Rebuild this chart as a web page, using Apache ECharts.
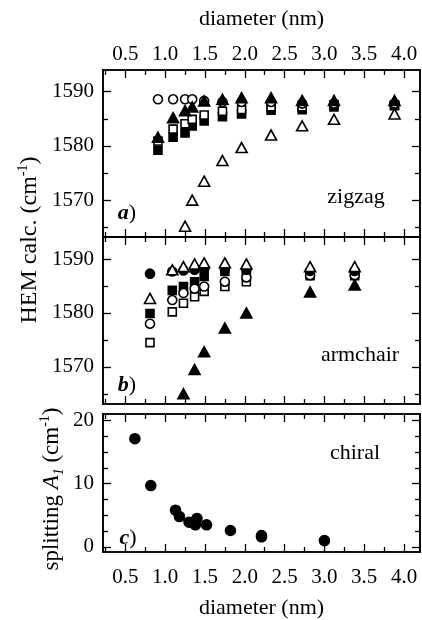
<!DOCTYPE html>
<html>
<head>
<meta charset="utf-8">
<script src="https://cdn.jsdelivr.net/npm/echarts@6/dist/echarts.min.js"></script>
<style>
  html, body { margin: 0; padding: 0; background: #fff; }
  #chart { width: 422px; height: 620px; }
</style>
</head>
<body>
<div id="chart"></div>
<script>
// ticks
const xMajor = [0.5, 1.0, 1.5, 2.0, 2.5, 3.0, 3.5, 4.0]
const xMinor = [0.25, 0.75, 1.25, 1.75, 2.25, 2.75, 3.25, 3.75]
const hemMajor = [1570, 1580, 1590]
const hemMinor = [1565, 1575, 1585]
const splitMajor = [0, 10, 20]
const splitMinor = [2.5, 5, 7.5, 12.5, 15, 17.5]

// a) zigzag
const zzD = [0.91, 1.10, 1.25, 1.34, 1.49, 1.72, 1.96, 2.33, 2.72, 3.12, 3.88]
const zzOpenCircle = [1588.6, 1588.6, 1588.6, 1588.6, 1588.3, 1588.1, 1588.1, 1588.1, 1587.8, 1587.8, 1587.8]
const zzFilledTri = [1581.6, 1585.2, 1586.5, 1587.2, 1588.3, 1588.6, 1588.9, 1588.9, 1588.4, 1588.4, 1588.4]
const zzOpenSquare = [1580.9, 1583.1, 1584.1, 1584.9, 1585.7, 1586.4, 1586.7, 1587.2, 1587.2, 1587.6, 1587.6]
const zzFilledSquare = [1579.2, 1581.6, 1582.4, 1583.7, 1584.6, 1585.4, 1585.9, 1586.6, 1586.7, 1587.2, 1587.4]
const zzTriD = [1.25, 1.34, 1.49, 1.72, 1.96, 2.33, 2.72, 3.12, 3.88]
const zzOpenTri = [1565.2, 1570.0, 1573.5, 1577.3, 1579.7, 1582.0, 1583.7, 1584.9, 1585.9]

// b) armchair
const acD = [0.81, 1.09, 1.23, 1.37, 1.49, 1.75, 2.02, 2.82, 3.38]
const acFilledCircle = [1587.3, 1587.7, 1587.9, 1588.0, 1588.1, 1588.1, 1588.0, 1587.8, 1587.8]
const acOpenTri = [1582.7, 1588.0, 1588.6, 1589.1, 1589.3, 1589.3, 1589.1, 1588.6, 1588.6]
const acFilledSquare = [1579.9, 1584.2, 1584.9, 1585.8, 1586.8, 1587.7, 1587.7, 1586.9, 1586.9]
const acOpenCircle = [1578.0, 1582.4, 1583.7, 1584.5, 1584.9, 1585.8, 1586.6, 1587.0, 1587.0]
const acOpenSquare = [1574.5, 1580.2, 1581.8, 1583.0, 1584.0, 1584.9, 1585.8, 1587.4, 1587.4]
const acTriD = [1.23, 1.37, 1.49, 1.75, 2.02, 2.82, 3.38]
const acFilledTri = [1565.0, 1569.5, 1572.8, 1577.2, 1580.0, 1583.9, 1585.2]

// c) chiral
const chD = [0.62, 0.82, 1.13, 1.18, 1.30, 1.37, 1.40, 1.38, 1.52, 1.82, 2.21, 2.21, 3.00]
const chSplit = [17.1, 9.7, 5.8, 4.8, 3.9, 3.75, 4.5, 3.5, 3.5, 2.6, 1.8, 1.6, 1.0]

const FONT = '"Liberation Serif", "DejaVu Serif", serif'
const X_MIN = 0.22, X_MAX = 4.2
const yRanges = [[1563.2, 1594], [1563.1, 1594.1], [-0.8, 21]]

const chart = echarts.init(document.getElementById('chart'), null, { renderer: 'canvas' })

const line = { color: '#000', width: 1.6 }

// one x axis (one side, one tick length) of a grid
const xAx = (grid, pos, ticks, len, labels, name) => ({
  gridIndex: grid, type: 'value', position: pos, min: X_MIN, max: X_MAX,
  axisLine: { show: true, onZero: false, lineStyle: line },
  axisTick: { show: true, inside: true, length: len, customValues: ticks, lineStyle: { color: '#000', width: 1.3 } },
  axisLabel: labels
    ? { show: true, customValues: ticks, formatter: v => v.toFixed(1), color: '#000', fontFamily: FONT, fontSize: 21,
        margin: pos === 'top' ? 5 : 15 }
    : { show: false },
  splitLine: { show: false },
  name: name || '', nameLocation: 'middle', nameGap: pos === 'top' ? 40 : 45,
  nameTextStyle: { color: '#000', fontFamily: FONT, fontSize: 22 }
})

const yAx = (grid, pos, ticks, len, labels) => ({
  gridIndex: grid, type: 'value', position: pos, min: yRanges[grid][0], max: yRanges[grid][1],
  axisLine: { show: true, onZero: false, lineStyle: line },
  axisTick: { show: true, inside: true, length: len, customValues: ticks, lineStyle: { color: '#000', width: 1.3 } },
  axisLabel: labels
    ? { show: true, customValues: ticks, formatter: v => String(v), color: '#000', fontFamily: FONT, fontSize: 21, margin: 9 }
    : { show: false },
  splitLine: { show: false }
})

const xAxes = [], yAxes = []
const yMaj = [hemMajor, hemMajor, splitMajor]
const yMin = [hemMinor, hemMinor, splitMinor]
for (let g = 0; g < 3; g++) {
  // index 4g is the bottom major axis used by series
  xAxes.push(xAx(g, 'bottom', xMajor, 8, g === 2, g === 2 ? 'diameter (nm)' : ''))
  xAxes.push(xAx(g, 'bottom', xMinor, 5, false))
  xAxes.push(xAx(g, 'top', xMajor, 8, g === 0, g === 0 ? 'diameter (nm)' : ''))
  xAxes.push(xAx(g, 'top', xMinor, 5, false))
  yAxes.push(yAx(g, 'left', yMaj[g], 8, true))
  yAxes.push(yAx(g, 'left', yMin[g], 5, false))
  yAxes.push(yAx(g, 'right', yMaj[g], 8, false))
  yAxes.push(yAx(g, 'right', yMin[g], 5, false))
}

const pts = (xs, ys) => xs.map((x, i) => [x, ys[i]])
const scat = (grid, xs, ys, symbol, filled, size) => ({
  type: 'scatter', xAxisIndex: 4 * grid, yAxisIndex: 4 * grid,
  data: pts(xs, ys), symbol: symbol, symbolSize: size,
  itemStyle: { color: filled ? '#000' : '#fff', borderColor: '#000', borderWidth: 1.6, opacity: 1 },
  emphasis: { disabled: true }, silent: true
})

const serif = (t, x, y, size, extra) => Object.assign({
  type: 'text', x: x, y: y,
  style: { text: t, fill: '#000', font: size + 'px ' + FONT, align: 'center', verticalAlign: 'middle' }
}, extra || {})

const panelTag = (letter, x, y) => ({
  type: 'text', x: x, y: y,
  style: {
    text: '{b|' + letter + '}{n|)}', align: 'center', verticalAlign: 'middle',
    rich: {
      b: { fontFamily: FONT, fontSize: 22, fontWeight: 'bold', fontStyle: 'italic', fill: '#000' },
      n: { fontFamily: FONT, fontSize: 22, fill: '#000' }
    }
  }
})

const option = {
  animation: false,
  backgroundColor: '#fff',
  grid: [
    { left: 103, top: 70, width: 317, height: 167 },
    { left: 103, top: 237, width: 317, height: 167 },
    { left: 103, top: 414, width: 317, height: 151 }
  ],
  xAxis: xAxes,
  yAxis: yAxes,
  series: [
    scat(0, zzD, zzFilledSquare, 'rect', true, 8),
    scat(0, zzD, zzOpenSquare, 'rect', false, 8),
    scat(0, zzD, zzOpenCircle, 'circle', false, 9),
    scat(0, zzD, zzFilledTri, 'triangle', true, [11, 10]),
    scat(0, zzTriD, zzOpenTri, 'triangle', false, [11, 10]),

    scat(1, acD, acOpenSquare, 'rect', false, 8),
    scat(1, acD, acFilledSquare, 'rect', true, 8),
    scat(1, acD, acOpenCircle, 'circle', false, 9),
    scat(1, acD, acFilledCircle, 'circle', true, 9),
    scat(1, acD, acOpenTri, 'triangle', false, [11, 10]),
    scat(1, acTriD, acFilledTri, 'triangle', true, [11, 10]),

    scat(2, chD, chSplit, 'circle', true, 10)
  ],
  graphic: [
    serif('zigzag', 356, 197, 22),
    serif('armchair', 360, 355, 22),
    serif('chiral', 355, 453, 22),
    panelTag('a', 127, 213),
    panelTag('b', 127, 385),
    panelTag('c', 128, 538),
    {
      type: 'text', x: 30, y: 240, rotation: Math.PI / 2,
      style: {
        text: '{n|HEM calc. (cm}{s|-1}{n|)}', align: 'center', verticalAlign: 'middle',
        rich: {
          n: { fontFamily: FONT, fontSize: 24, lineHeight: 28, fill: '#000' },
          s: { fontFamily: FONT, fontSize: 14, lineHeight: 28, verticalAlign: 'top', fill: '#000' }
        }
      }
    },
    {
      type: 'text', x: 52, y: 489, rotation: Math.PI / 2,
      style: {
        text: '{n|splitting }{i|A}{sub|1}{n| (cm}{s|-1}{n|)}', align: 'center', verticalAlign: 'middle',
        rich: {
          n: { fontFamily: FONT, fontSize: 23, lineHeight: 28, fill: '#000' },
          i: { fontFamily: FONT, fontSize: 23, fontStyle: 'italic', lineHeight: 28, fill: '#000' },
          sub: { fontFamily: FONT, fontSize: 14, fontStyle: 'italic', lineHeight: 28, verticalAlign: 'bottom', fill: '#000' },
          s: { fontFamily: FONT, fontSize: 14, lineHeight: 28, verticalAlign: 'top', fill: '#000' }
        }
      }
    }
  ]
}

chart.setOption(option)
</script>
</body>
</html>
